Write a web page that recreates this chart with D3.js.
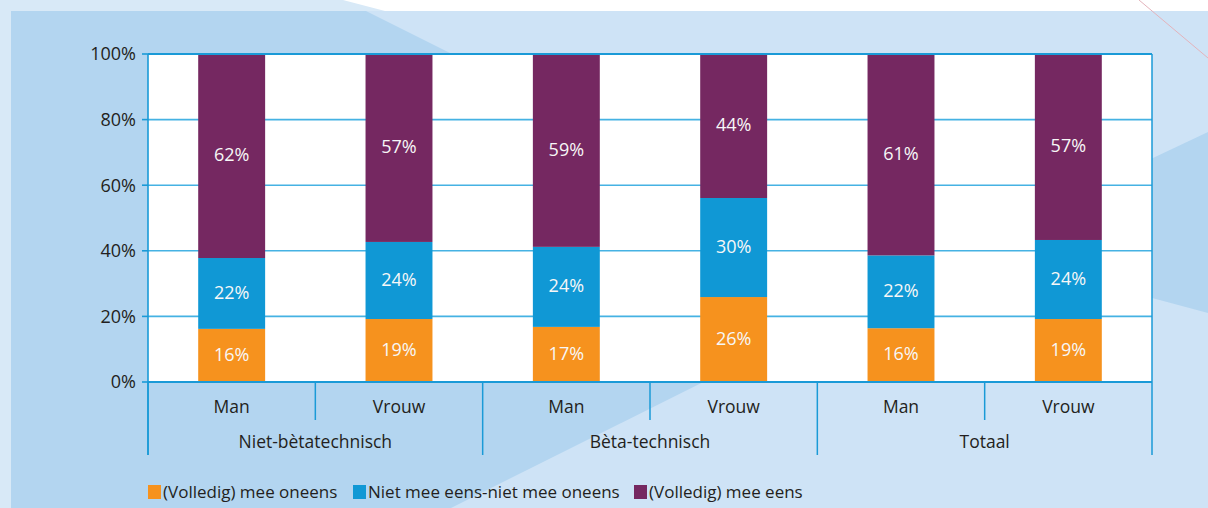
<!DOCTYPE html>
<html>
<head>
<meta charset="utf-8">
<script src="https://d3js.org/d3.v7.min.js"></script>
<style>
  body { margin: 0; background: #fff; }
  svg { display: block; font-family: 'Open Sans', sans-serif; }
</style>
</head>
<body>
<div id="chart"></div>
<script>
// Data
var groups = ["Niet-bètatechnisch", "Bèta-technisch", "Totaal"];
var genders = ["Man", "Vrouw"];
var seriesNames = ["(Volledig) mee oneens", "Niet mee eens-niet mee oneens", "(Volledig) mee eens"];
var oneens   = [16.2, 19.2, 16.8, 25.9, 16.4, 19.2];
var neutraal = [21.6, 23.5, 24.4, 30.2, 22.2, 24.1];
var eens     = [62.2, 57.3, 58.8, 43.9, 61.4, 56.7];
var yTicks = [0, 20, 40, 60, 80, 100];
var colors = ["#f6921e", "#1098d5", "#752861"];

var W = 1208, H = 508;
var margin = {left: 148, top: 54, right: 56, bottom: 126};
var x0 = margin.left, x1 = W - margin.right, yTop = margin.top, yBot = H - margin.bottom;

var svg = d3.select("#chart").append("svg")
    .attr("width", W).attr("height", H);

////////////////////// Background //////////////////////
svg.append("rect").attr("width", W).attr("height", H).attr("fill", "#fff");
svg.append("path").attr("fill", "#d8e9f7")
    .attr("d", "M0,0L343,0L385,11L385,508L0,508Z");
svg.append("rect").attr("x", 11).attr("y", 11).attr("width", W - 11).attr("height", H - 11)
    .attr("fill", "#cee3f6");
svg.append("path").attr("fill", "#b3d5f0")
    .attr("d", "M11,11L366,11L906,281L451,508L11,508Z");
svg.append("path").attr("fill", "#b3d5f0")
    .attr("d", "M1208,132L1100,183L1100,284L1208,313Z");
svg.append("line").attr("x1", 1139).attr("y1", 0).attr("x2", 1208).attr("y2", 58)
    .attr("stroke", "#e3b3bb").attr("stroke-width", 1);

////////////////////// Scales //////////////////////
var ids = d3.range(oneens.length);
var x = d3.scaleBand().domain(ids).range([x0, x1]).paddingInner(0.6).paddingOuter(0.3);
var y = d3.scaleLinear().domain([0, 100]).range([yBot, yTop]);

var rows = ids.map(function(i) { return {i: i, a: oneens[i], b: neutraal[i], c: eens[i]}; });
var stack = d3.stack().keys(["a", "b", "c"])(rows);

// plot area
svg.append("rect").attr("x", x0).attr("y", yTop).attr("width", x1 - x0).attr("height", yBot - yTop)
    .attr("fill", "#fff");

// gridlines
svg.append("g").selectAll("line").data(yTicks.filter(function(t) { return t > 0 && t < 100; }))
  .enter().append("line")
    .attr("x1", x0).attr("x2", x1)
    .attr("y1", function(d) { return y(d); }).attr("y2", function(d) { return y(d); })
    .attr("stroke", "#45b2e3").attr("stroke-width", 1.6);

////////////////////// Bars //////////////////////
var layer = svg.append("g").selectAll("g").data(stack).enter().append("g")
    .attr("fill", function(d, k) { return colors[k]; });

layer.selectAll("rect").data(function(d) { return d; }).enter().append("rect")
    .attr("x", function(d) { return x(d.data.i); })
    .attr("width", x.bandwidth())
    .attr("y", function(d) { return y(d[1]); })
    .attr("height", function(d) { return y(d[0]) - y(d[1]); });

layer.selectAll("text").data(function(d) { return d; }).enter().append("text")
    .attr("x", function(d) { return x(d.data.i) + x.bandwidth() / 2; })
    .attr("y", function(d) { return (y(d[0]) + y(d[1])) / 2 - 1; })
    .attr("dy", "0.35em")
    .attr("text-anchor", "middle")
    .attr("fill", "#f7f7f7")
    .style("font-size", "18px")
    .text(function(d) { return Math.round(d[1] - d[0]) + "%"; });

////////////////////// Axes //////////////////////
var axisColor = "#1a9ad7";
var ax = svg.append("g");
// top line
ax.append("line").attr("x1", x0).attr("x2", x1).attr("y1", y(100)).attr("y2", y(100))
    .attr("stroke", axisColor).attr("stroke-width", 2.2);
// right border
ax.append("line").attr("x1", x1).attr("x2", x1).attr("y1", y(100)).attr("y2", yBot)
    .attr("stroke", axisColor).attr("stroke-width", 1.5);
// left axis
ax.append("line").attr("x1", x0).attr("x2", x0).attr("y1", y(100)).attr("y2", 455)
    .attr("stroke", axisColor).attr("stroke-width", 1.6);
// y ticks and labels
ax.selectAll("line.tick").data(yTicks).enter().append("line")
    .attr("class", "tick")
    .attr("x1", x0 - 6).attr("x2", x0)
    .attr("y1", function(d) { return y(d); }).attr("y2", function(d) { return y(d); })
    .attr("stroke", axisColor).attr("stroke-width", 1.6);
ax.selectAll("text.ylab").data(yTicks).enter().append("text")
    .attr("class", "ylab")
    .attr("x", x0 - 12).attr("y", function(d) { return y(d); })
    .attr("dy", "0.35em").attr("text-anchor", "end")
    .attr("fill", "#231f20").style("font-size", "18px")
    .text(function(d) { return d + "%"; });
// x axis line
ax.append("line").attr("x1", x0).attr("x2", x1).attr("y1", yBot).attr("y2", yBot)
    .attr("stroke", axisColor).attr("stroke-width", 2);

// separators
var innerSep = [0, 1, 2].map(function(g) { return x0 + (2 * g + 1) * (x1 - x0) / 6; });
var outerSep = [0, 1, 2, 3].map(function(g) { return x0 + g * (x1 - x0) / 3; });
ax.selectAll("line.isep").data(innerSep).enter().append("line")
    .attr("x1", function(d) { return d; }).attr("x2", function(d) { return d; })
    .attr("y1", yBot).attr("y2", 420)
    .attr("stroke", axisColor).attr("stroke-width", 1.5);
ax.selectAll("line.osep").data(outerSep).enter().append("line")
    .attr("x1", function(d) { return d; }).attr("x2", function(d) { return d; })
    .attr("y1", yBot).attr("y2", 455)
    .attr("stroke", axisColor).attr("stroke-width", 1.5);

// category labels
ax.selectAll("text.cat").data(ids).enter().append("text")
    .attr("x", function(i) { return x0 + (i + 0.5) * (x1 - x0) / 6; })
    .attr("y", 407).attr("dy", "0.35em").attr("text-anchor", "middle")
    .attr("fill", "#231f20").style("font-size", "17.5px")
    .text(function(i) { return genders[i % 2]; });
ax.selectAll("text.grp").data(groups).enter().append("text")
    .attr("x", function(d, g) { return x0 + (g + 0.5) * (x1 - x0) / 3; })
    .attr("y", 442).attr("dy", "0.35em").attr("text-anchor", "middle")
    .attr("fill", "#231f20").style("font-size", "17.5px")
    .text(function(d) { return d; });

////////////////////// Legend //////////////////////
var legX = [148, 353, 634];
var leg = svg.append("g").selectAll("g").data(seriesNames).enter().append("g")
    .attr("transform", function(d, k) { return "translate(" + legX[k] + ",485)"; });
leg.append("rect").attr("width", 13).attr("height", 14)
    .attr("fill", function(d, k) { return colors[k]; });
leg.append("text").attr("x", 15).attr("y", 7).attr("dy", "0.35em")
    .attr("fill", "#231f20").style("font-size", "17px")
    .text(function(d) { return d; });
</script>
</body>
</html>
